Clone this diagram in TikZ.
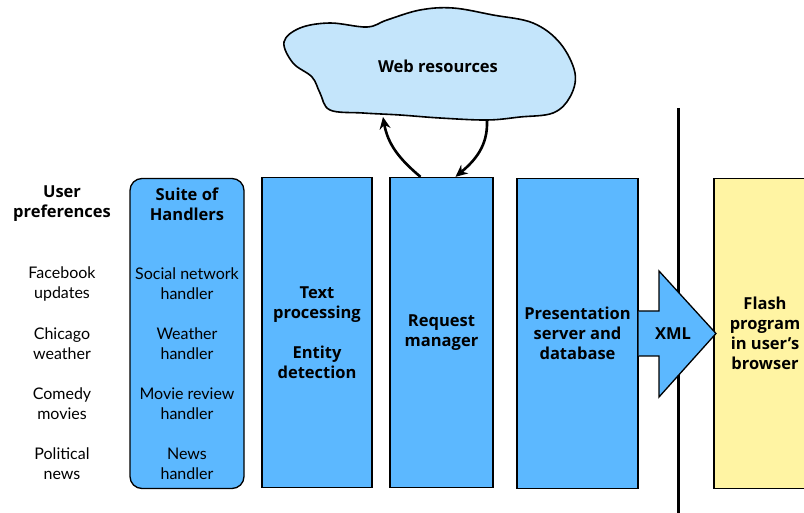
\documentclass[tikz,border=0pt]{standalone}
\usepackage{fontspec}
\setmainfont{Lato}
\newfontfamily\headfont{Open Sans}
\usetikzlibrary{arrows.meta,positioning,calc}
\definecolor{hblue}{HTML}{5CB8FF}
\definecolor{hcloud}{HTML}{C4E5FB}
\definecolor{hyellow}{HTML}{FFF4A3}
\tikzset{
  col/.style   = {rectangle, draw=black, line width=1.3pt, fill=hblue,
                  minimum height=310pt, inner sep=2pt, align=center,
                  font=\headfont\fontsize{16.5}{20}\selectfont\bfseries},
  pref/.style  = {align=center, inner sep=1pt,
                  font=\fontsize{16}{20}\selectfont},
  head/.style  = {pref, font=\headfont\fontsize{16.5}{20}\selectfont\bfseries},
  loopy/.style = {-{Stealth[length=12pt,width=11pt]}, line width=2.6pt},
}

\begin{document}
\begin{tikzpicture}[x=1pt,y=-1pt]
  \useasboundingbox (0,0) rectangle (804,513);
  % server / client split
  \draw[line width=3.5pt] (678.5,108) coordinate (splitT) -- (678.5,513) coordinate (splitB);
  % cloud
  \draw[fill=hcloud, line width=1.6pt] plot[smooth cycle, tension=0.6] coordinates {
    (284,42) (300,28) (330,23) (367,27) (387,20) (420,10) (453,8) (493,15)
    (533,23) (560,43) (575,73) (570,97) (553,113) (520,117) (487,120)
    (440,118) (400,115) (363,113) (330,110) (320,93) (312,77) (293,63)};
  \node[head] (web) at (438,66) {Web resources};
  \coordinate (webL) at (383,117);
  \coordinate (webR) at (487,121);
  % columns
  \node[col, minimum width=114pt, rounded corners=12pt] (suite) at (187,333.5) {};
  \node[col, minimum width=110pt] (text) at (317,332.5)
    {Text\\processing\\[20pt]Entity\\detection};
  \node[col, minimum width=103pt] (req) at (441.5,332.5) {Request\\manager};
  \node[col, minimum width=121pt] (pres) at (577.5,333.5)
    {Presentation\\server and\\database};
  \node[col, minimum width=102pt, fill=hyellow] (flash) at (765,333.5)
    {Flash\\program\\in user’s\\browser};
  % XML arrow
  \draw[fill=hblue, line width=1.3pt] (pres.east |- 0,311) -- (659,311) -- (659,271)
    -- (716,333.5) coordinate (tip) -- (659,397) -- (659,356) -- (pres.east |- 0,356);
  \node[head] (xml) at (673,334) {XML};
  % request loop
  \draw[loopy] ([xshift=-21pt]req.north) to[out=140, in=-80] (webL);
  \draw[loopy] (webR) to[out=-88, in=40] ([xshift=14pt]req.north);
  % user preferences
  \node[head] (prefs) at (62,204) {User\\preferences};
  \node[pref] (fb)  at (62,284) {Facebook\\updates};
  \node[pref] (chi) at (62,344) {Chicago\\weather};
  \node[pref] (com) at (62,404) {Comedy\\movies};
  \node[pref] (pol) at (62,464) {Political\\news};
  % handlers
  \node[head] (hsuite) at (suite.center |- prefs) {Suite of\\Handlers};
  \node[pref] (hsoc) at (suite.center |- fb)  {Social network\\handler};
  \node[pref] (hwea) at (suite.center |- chi) {Weather\\handler};
  \node[pref] (hmov) at (suite.center |- com) {Movie review\\handler};
  \node[pref] (hnew) at (suite.center |- pol) {News\\handler};
\end{tikzpicture}
\end{document}
